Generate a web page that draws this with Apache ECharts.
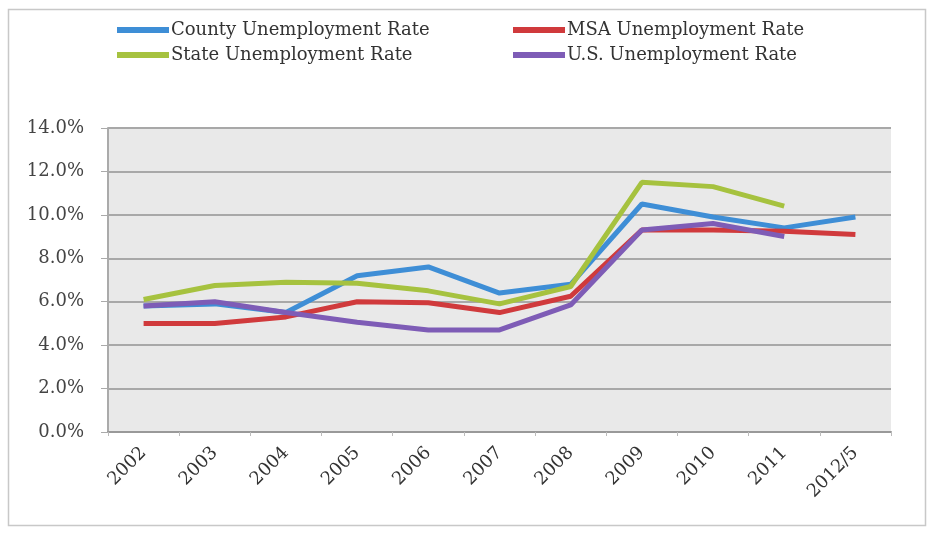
<!DOCTYPE html>
<html><head><meta charset="utf-8">
<script src="https://cdn.jsdelivr.net/npm/echarts@6/dist/echarts.min.js"></script>
<style>html,body{margin:0;padding:0;background:#fff}#c{width:935px;height:534px}</style>
</head><body><div id="c"></div>
<script>
const categories = ['2002','2003','2004','2005','2006','2007','2008','2009','2010','2011','2012/5'];
const county = [5.8, 5.9, 5.5, 7.2, 7.6, 6.4, 6.8, 10.5, 9.9, 9.4, 9.9];
const msa    = [5.0, 5.0, 5.3, 6.0, 5.95, 5.5, 6.25, 9.3, 9.3, 9.25, 9.1];
const state  = [6.1, 6.75, 6.9, 6.85, 6.5, 5.9, 6.7, 11.5, 11.3, 10.4, null];
const us     = [5.8, 6.0, 5.5, 5.05, 4.7, 4.7, 5.85, 9.3, 9.6, 9.0, null];
const yTicks = [0, 2, 4, 6, 8, 10, 12, 14];

const names = ['County Unemployment Rate','MSA Unemployment Rate','State Unemployment Rate','U.S. Unemployment Rate'];
const colors = ['#3e8ed6','#d03a3c','#a6c23f','#7e5cb6'];
const seriesData = [county, msa, state, us];
const font = 'DejaVu Serif';

const chart = echarts.init(document.getElementById('c'));
const legendPos = [[112,16],[508,16],[112,41],[508,41]];
chart.setOption({
  animation:false,
  graphic:[{type:'rect',shape:{x:8.5,y:9.5,width:917,height:516},style:{fill:'none',stroke:'#c8c8c8',lineWidth:1.5},silent:true}],
  legend: names.map((n,i)=>({
    data:[n], left:legendPos[i][0], top:legendPos[i][1], icon:'rect', itemWidth:52, itemHeight:6, itemGap:0,
    textStyle:{fontFamily:font,fontSize:18,color:'#333',padding:[0,0,0,-3]}
  })),
  grid:{left:108,right:44,top:128,bottom:102,show:true,backgroundColor:'#e9e9e9',borderWidth:0},
  xAxis:{type:'category',data:categories,boundaryGap:true,
    axisLine:{lineStyle:{color:'#999',width:2}},
    axisTick:{show:true,lineStyle:{color:'#bbb'},length:4},
    axisLabel:{rotate:45,fontFamily:font,fontSize:18,color:'#333',margin:18}},
  yAxis:{type:'value',min:yTicks[0],max:yTicks[yTicks.length-1],interval:2,
    axisLine:{show:true,lineStyle:{color:'#aaa',width:2}},
    axisTick:{show:true,lineStyle:{color:'#aaa'},length:7},
    splitLine:{lineStyle:{color:'#a8a8a8',width:2}},
    axisLabel:{formatter:v=>v.toFixed(1)+'%',fontFamily:font,fontSize:18,color:'#444',margin:24}},
  series: names.map((n,i)=>({
    name:n,type:'line',data:seriesData[i],symbol:'none',connectNulls:false,
    lineStyle:{width:5,color:colors[i]},itemStyle:{color:colors[i]}
  }))
});
</script></body></html>
